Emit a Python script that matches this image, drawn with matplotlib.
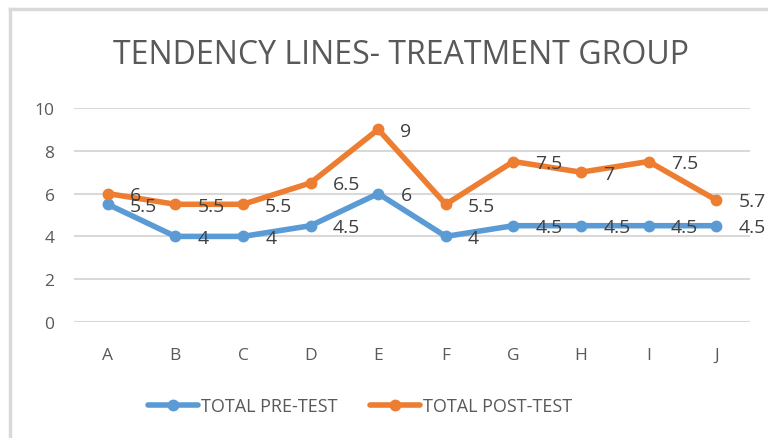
import matplotlib
matplotlib.use("Agg")
import matplotlib.pyplot as plt
from matplotlib.lines import Line2D

# ---- data ----
categories = ["A", "B", "C", "D", "E", "F", "G", "H", "I", "J"]
pre_test = [5.5, 4, 4, 4.5, 6, 4, 4.5, 4.5, 4.5, 4.5]
post_test = [6, 5.5, 5.5, 6.5, 9, 5.5, 7.5, 7, 7.5, 5.7]
pre_labels = ["5.5", "4", "4", "4.5", "6", "4", "4.5", "4.5", "4.5", "4.5"]
post_labels = ["6", "5.5", "5.5", "6.5", "9", "5.5", "7.5", "7", "7.5", "5.7"]
yticks = [0, 2, 4, 6, 8, 10]

BLUE = "#5b9bd5"
ORANGE = "#ed7d31"
GRID = "#d9d9d9"
TXT = "#595959"
LBL = "#404040"

plt.rcParams["font.family"] = ["Open Sans", "DejaVu Sans"]

W, H = 768, 439
fig = plt.figure(figsize=(W / 100, H / 100), dpi=100)
ax = fig.add_axes([74 / W, 1 - 323 / H, (750 - 74) / W, (323 - 109) / H])

x = list(range(len(categories)))
ax.plot(x, pre_test, color=BLUE, lw=4, marker="o", ms=7.5,
        solid_capstyle="round", label="TOTAL PRE-TEST", zorder=3)
ax.plot(x, post_test, color=ORANGE, lw=4, marker="o", ms=7.5,
        solid_capstyle="round", label="TOTAL POST-TEST", zorder=3)

# data labels to the right of each point (Excel style)
for xi, v, s in zip(x, pre_test, pre_labels):
    ax.annotate(s, (xi, v), xytext=(16, -1), textcoords="offset points",
                ha="left", va="center", fontsize=14, color=LBL, zorder=4)
for xi, v, s in zip(x, post_test, post_labels):
    ax.annotate(s, (xi, v), xytext=(16, -1), textcoords="offset points",
                ha="left", va="center", fontsize=14, color=LBL, zorder=4)

ax.set_xlim(-0.5, len(categories) - 0.5)
ax.set_ylim(0, 10)
ax.set_yticks(yticks)
ax.set_xticks(x)
ax.set_xticklabels(categories)
ax.tick_params(length=0, labelsize=12.5, labelcolor=TXT)
ax.tick_params(axis="x", pad=18)
ax.tick_params(axis="y", pad=14)
ax.grid(axis="y", color=GRID, lw=1.5)
ax.set_axisbelow(True)
for sp in ax.spines.values():
    sp.set_visible(False)
ax.patch.set_alpha(0)

fig.text(401 / W, 1 - 56 / H, "TENDENCY LINES- TREATMENT GROUP", ha="center",
         va="center", fontsize=23, color=TXT)

fig.legend(loc="center", bbox_to_anchor=(360 / W, 1 - 407 / H), ncol=2,
           frameon=False, fontsize=13, labelcolor=TXT, handlelength=2.8,
           columnspacing=1.8, handletextpad=0.15, markerscale=1)

# chart area border (top and left edges visible)
fig.add_artist(Line2D([10 / W, 1], [1 - 10 / H, 1 - 10 / H],
                      transform=fig.transFigure, color=GRID, lw=2.5))
fig.add_artist(Line2D([10 / W, 10 / W], [0, 1 - 10 / H],
                      transform=fig.transFigure, color=GRID, lw=2.5))

fig.savefig("out.png", dpi=100)
